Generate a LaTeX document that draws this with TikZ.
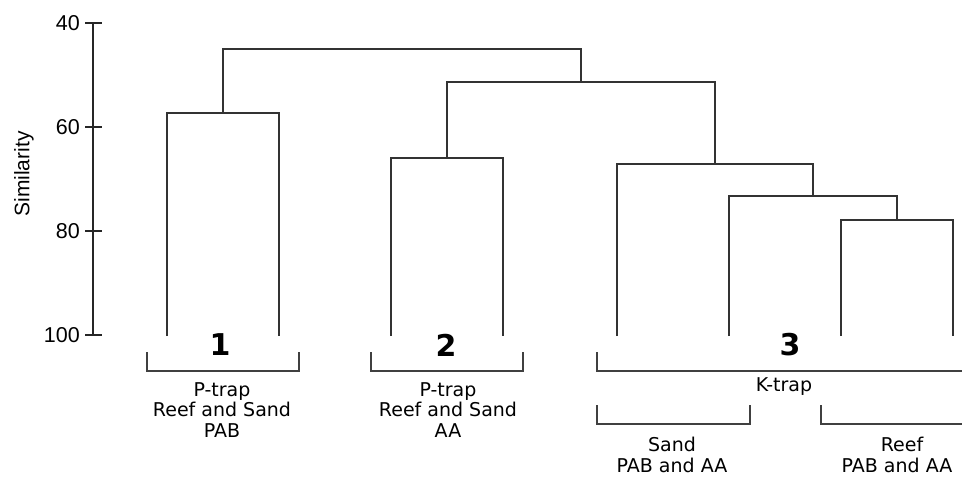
\documentclass[tikz,border=0pt]{standalone}
\usepackage{fontspec}
\setmainfont{DejaVu Sans}
\newfontfamily\axisfont{Liberation Sans}
\begin{document}
\begin{tikzpicture}[x=1pt,y=-1pt,
  link/.style={draw=black!80,line width=1.3pt},
  brk/.style={draw=black!75,line width=1.2pt},
  axl/.style={line width=1.2pt,draw=black!85},
  ticklab/.style={anchor=east,inner sep=0pt,font=\axisfont\fontsize{21.5}{23}\selectfont},
  grp/.style={align=center,inner sep=0pt,font=\fontsize{19}{20.5}\selectfont},
  num/.style={inner sep=0pt,font=\bfseries\fontsize{30}{32}\selectfont}]
\useasboundingbox (0,0) rectangle (962,477);
% axis
\coordinate (a40) at (93,23);
\coordinate (a60) at (93,127);
\coordinate (a80) at (93,231);
\coordinate (a100) at (93,335);
\draw[axl] (a40) -- (a100);
\foreach \v in {40,60,80,100}{
  \draw[axl] ([xshift=-8pt]a\v) -- ([xshift=9pt]a\v);
  \node[ticklab] (t\v) at ([xshift=-13pt]a\v) {\v};
}
\node[rotate=90,inner sep=0pt,font=\axisfont\fontsize{21}{23}\selectfont] (ylab) at (24,174) {Similarity};
% leaves
\coordinate (l1) at (167,336);
\coordinate (l2) at (279,336);
\coordinate (l3) at (391,336);
\coordinate (l4) at (503,336);
\coordinate (l5) at (617,336);
\coordinate (l6) at (729,336);
\coordinate (l7) at (841,336);
\coordinate (l8) at (953,336);
% joins
\coordinate (c12) at (223,113);
\coordinate (c34) at (447,158);
\coordinate (c78) at (897,220);
\coordinate (c678) at (813,196);
\coordinate (c5678) at (715,164);
\coordinate (c38) at (581,82);
\coordinate (root) at (402,49);
\draw[link] (l1) |- (c12) -| (l2);
\draw[link] (l3) |- (c34) -| (l4);
\draw[link] (l7) |- (c78) -| (l8);
\draw[link] (l6) |- (c678) -| (c78);
\draw[link] (l5) |- (c5678) -| (c678);
\draw[link] (c34) |- (c38) -| (c5678);
\draw[link] (c12) |- (root) -| (c38);
% brackets
\coordinate (b1a) at (147,352); \coordinate (b1b) at (299,352);
\coordinate (b2a) at (371,352); \coordinate (b2b) at (523,352);
\coordinate (b3a) at (597,352); \coordinate (b3b) at (963,371);
\coordinate (b4a) at (597,405); \coordinate (b4b) at (750,405);
\coordinate (b5a) at (821,405); \coordinate (b5b) at (963,424);
\draw[brk] (b1a) |- ([yshift=-19pt]b1b) -- (b1b);
\draw[brk] (b2a) |- ([yshift=-19pt]b2b) -- (b2b);
\draw[brk] (b3a) |- (b3b);
\draw[brk] (b4a) |- ([yshift=-19pt]b4b) -- (b4b);
\draw[brk] (b5a) |- (b5b);
% numbers
\node[num] (n1) at (220,345) {1};
\node[num] (n2) at (446,345) {2};
\node[num] (n3) at (790,345) {3};
% group labels
\node[grp] (g1) at (222,410) {P-trap\\Reef and Sand\\PAB};
\node[grp] (g2) at (448,410) {P-trap\\Reef and Sand\\AA};
\node[grp] (g3) at (784,387) {K-trap};
\node[grp] (g4) at (672,455) {Sand\\PAB and AA};
\node[grp] (g5) at (897,455) {\hspace*{10pt}Reef\\PAB and AA};
\end{tikzpicture}
\end{document}
